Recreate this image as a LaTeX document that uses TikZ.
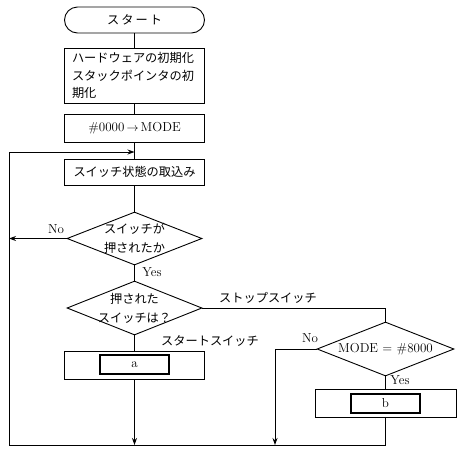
\documentclass[tikz,border=0pt]{standalone}
\usepackage{fontspec}
\newfontfamily\jp{Noto Sans CJK JP}
\usetikzlibrary{shapes.geometric,arrows.meta}
\begin{document}
\begin{tikzpicture}[x=1pt,y=-1pt,
 line width=0.9pt,
 box/.style={draw, rectangle, inner sep=0pt},
 inbox/.style={draw, rectangle, inner sep=0pt, line width=1.5pt, minimum width=69pt, minimum height=19pt},
 dia/.style={draw, diamond, inner sep=0pt},
 jt/.style={font=\jp\fontsize{12.2}{17.5}\selectfont, inner sep=0pt},
 lt/.style={font=\fontsize{13}{15}\selectfont, inner sep=0pt},
 arr/.style={-{Stealth[length=7pt,width=5pt]}},
]
\useasboundingbox (0,0) rectangle (463,456);

\node[box, rounded corners=13pt, minimum width=140pt, minimum height=26pt] (st) at (134.5,20) {};
\node[jt] at (st) {ス\,タ\,ー\,ト};

\node[box, minimum width=140pt, minimum height=55pt] (b1) at (134.5,75.5) {};
\node[jt, align=left, text width=126pt] at (135,75.5) {ハードウェアの初期化\\スタックポインタの初\\期化};

\node[box, minimum width=140pt, minimum height=28pt] (b2) at (134.5,128.5) {};
\node[lt] at (b2) {\#0000\,$\rightarrow$\,MODE};

\node[box, minimum width=140pt, minimum height=26pt] (b3) at (134.5,172) {};
\node[jt] at (b3) {スイッチ状態の取込み};

\node[dia, minimum width=135pt, minimum height=53pt] (d1) at (134.5,238.5) {};
\node[jt, align=center, font=\jp\fontsize{12.2}{19}\selectfont] at (d1) {スイッチが\\押されたか};

\node[dia, minimum width=135pt, minimum height=54pt] (d2) at (134.5,308) {};
\node[jt, align=center, font=\jp\fontsize{12.2}{19}\selectfont] at (d2) {押された\\スイッチは？};

\node[box, minimum width=140pt, minimum height=28pt] (ba) at (134.5,365) {};
\node[inbox] (ia) at (134.5,364.5) {};
\node[lt] at (ia) {a};

\node[dia, minimum width=137pt, minimum height=54pt] (d3) at (385.5,349) {};
\node[lt] at (d3) {MODE\,\,=\,\,\#8000};

\node[box, minimum width=141pt, minimum height=28pt] (bb) at (385.5,403) {};
\node[inbox] (ib) at (385.5,403.5) {};
\node[lt] at (ib) {b};

\coordinate (J) at (134.5,152);
\coordinate (bot) at (134.5,445);
\coordinate (nb) at (275,445);
\coordinate (lc) at (9,238.5);
\coordinate (BL) at (9,445);

\draw (st) -- (b1);
\draw (b1) -- (b2);
\draw (b2) -- (b3);
\draw (b3) -- (d1);
\draw (d1) -- (d2);
\draw (d2) -- (ba);
\draw[arr] (ba) -- (bot);
\draw[arr] (d1.west) -- (lc);
\draw (d2.east) -| (d3.north);
\draw[arr] (d3.west) -| (nb);
\draw (d3.south) -- (bb.north);
\draw[arr] (bb.south) |- (BL) |- (J);

\node[lt] (no1) at (56,229) {No};
\node[lt] (yes1) at (152,272) {Yes};
\node[jt] (stop) at (268,298) {ストップスイッチ};
\node[jt] (strt) at (210,341) {スタートスイッチ};
\node[lt] (no2) at (310,338) {No};
\node[lt] (yes2) at (400,380) {Yes};
\end{tikzpicture}
\end{document}
